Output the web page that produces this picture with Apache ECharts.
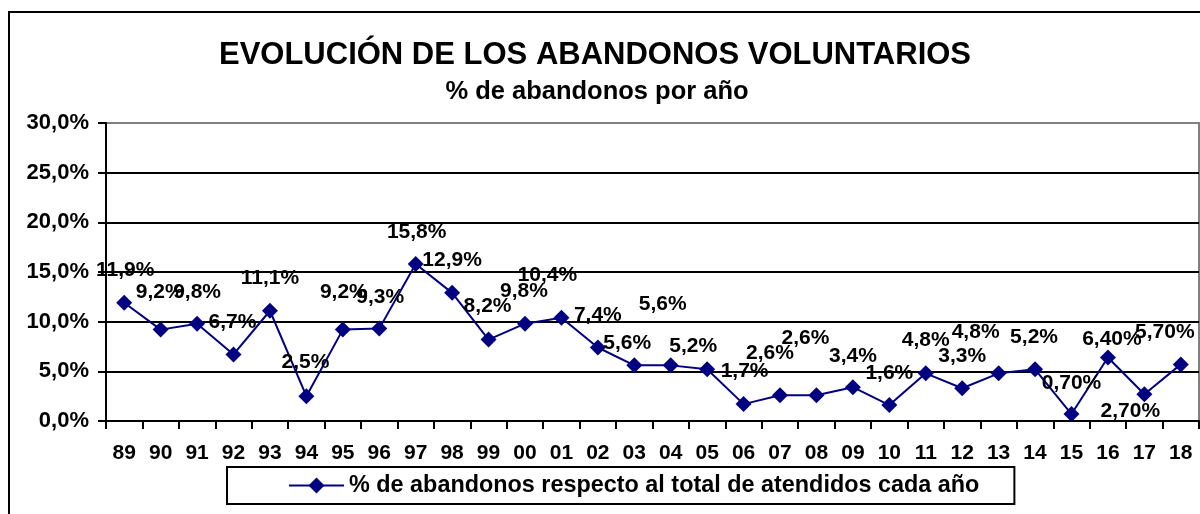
<!DOCTYPE html>
<html>
<head>
<meta charset="utf-8">
<script src="https://cdn.jsdelivr.net/npm/echarts@6/dist/echarts.min.js"></script>
<style>
html,body{margin:0;padding:0;background:#fff;}
#chart{width:1200px;height:514px;}
</style>
</head>
<body>
<div id="chart"></div>
<script>
const years = ['89','90','91','92','93','94','95','96','97','98','99','00','01','02','03','04','05','06','07','08','09','10','11','12','13','14','15','16','17','18'];
const values = [11.9,9.2,9.8,6.7,11.1,2.5,9.2,9.3,15.8,12.9,8.2,9.8,10.4,7.4,5.6,5.6,5.2,1.7,2.6,2.6,3.4,1.6,4.8,3.3,4.8,5.2,0.7,6.4,2.7,5.7];
const valueLabels = ['11,9%','9,2%','9,8%','6,7%','11,1%','2,5%','9,2%','9,3%','15,8%','12,9%','8,2%','9,8%','10,4%','7,4%','5,6%','5,6%','5,2%','1,7%','2,6%','2,6%','3,4%','1,6%','4,8%','3,3%','4,8%','5,2%','0,70%','6,40%','2,70%','5,70%'];
const yTicks = [0,5,10,15,20,25,30];
const seriesName = '% de abandonos respecto al total de atendidos cada año';
const titleText = 'EVOLUCIÓN DE LOS ABANDONOS VOLUNTARIOS';
const subtitleText = '% de abandonos por año';

// label placement relative to each point (style only)
const labelOffsets = [[1,-33],[-1,-37],[0,-31],[-1,-32],[0,-33],[-1,-34],[1,-37],[1,-31],[1,-32],[0,-33],[-1,-33],[-1,-32],[-14,-42],[0,-32],[-7,-22],[-8,-61],[-14,-23],[1,-33],[-10,-42],[-11,-57],[0,-31],[0,-32],[0,-33],[0,-32],[-23,-41],[-1,-32],[0,-31],[4,-18],[-14,17],[-16,-32]];

const FONT = 'Arial, "Liberation Sans", sans-serif';
const chart = echarts.init(document.getElementById('chart'), null, {renderer:'canvas'});
chart.setOption({
  animation: false,
  backgroundColor: '#fff',
  graphic: [
    {type:'rect', shape:{x:9,y:12,width:1200,height:510}, style:{fill:'none', stroke:'#000', lineWidth:2}, z:0},
    {type:'text', x:595, y:55, style:{text:titleText, fontFamily:FONT, fontWeight:'bold', fontSize:31, fill:'#000', align:'center', verticalAlign:'middle', textAlign:'center', textVerticalAlign:'middle'}},
    {type:'text', x:597, y:92, style:{text:subtitleText, fontFamily:FONT, fontWeight:'bold', fontSize:25.5, fill:'#000', align:'center', verticalAlign:'middle', textAlign:'center', textVerticalAlign:'middle'}}
  ],
  legend: {
    data: [seriesName],
    left: 227, top: 467,
    orient: 'horizontal',
    itemWidth: 55, itemHeight: 20,
    padding: [7, 35, 7, 61],
    borderColor: '#000', borderWidth: 2,
    backgroundColor: '#fff',
    textStyle: {fontFamily: FONT, fontWeight:'bold', fontSize:23.4, color:'#000', lineHeight:23}
  },
  grid: {left:106, right:1, top:123, bottom:93, show:true, borderColor:'#808080', borderWidth:2, backgroundColor:'#fff'},
  xAxis: {
    type:'category', data: years, boundaryGap:true,
    axisLine:{show:true, lineStyle:{color:'#000', width:2}},
    axisTick:{show:true, length:8, lineStyle:{color:'#000', width:2}},
    axisLabel:{fontFamily:FONT, fontWeight:'bold', fontSize:21, color:'#000', margin:22, interval:0},
    splitLine:{show:false}
  },
  yAxis: {
    type:'value', min:yTicks[0], max:yTicks[yTicks.length-1], interval:yTicks[1]-yTicks[0],
    axisLine:{show:true, lineStyle:{color:'#000', width:2}},
    axisTick:{show:true, length:8, lineStyle:{color:'#000', width:2}},
    axisLabel:{fontFamily:FONT, fontWeight:'bold', fontSize:22, color:'#000', margin:17,
      formatter: v => v.toFixed(1).replace('.', ',') + '%'},
    splitLine:{show:true, showMaxLine:false, showMinLine:false, lineStyle:{color:'#000', width:2}}
  },
  series: [{
    name: seriesName,
    type: 'line',
    data: values,
    symbol: 'diamond', symbolSize: 16,
    lineStyle:{color:'#000080', width:2},
    itemStyle:{color:'#000080'},
    label:{show:true, position:'inside', fontFamily:FONT, fontWeight:'bold', fontSize:21, color:'#000',
      formatter: p => valueLabels[p.dataIndex]},
    labelLayout: p => ({dx: labelOffsets[p.dataIndex][0], dy: labelOffsets[p.dataIndex][1], hideOverlap:false}),
    z: 3
  }]
});
</script>
</body>
</html>
